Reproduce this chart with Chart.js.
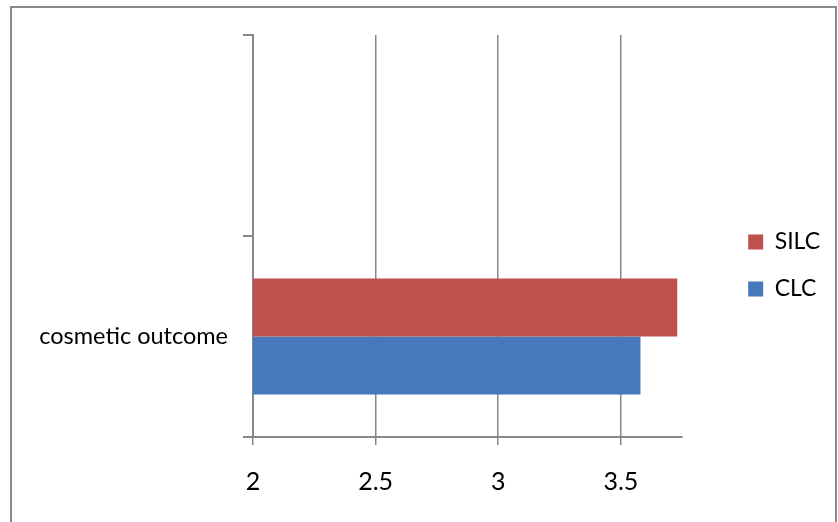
<!DOCTYPE html>
<html>
<head>
<meta charset="utf-8">
<script src="https://cdn.jsdelivr.net/npm/chart.js@4/dist/chart.umd.min.js"></script>
<style>
  body { margin: 0; background: #fff; }
</style>
</head>
<body>
<canvas id="outcome" width="838" height="522"></canvas>
<script>
// category rows (top slot is left blank like the source sheet)
var categories = ['', 'cosmetic outcome'];
var silcValues = [null, 3.73];
var clcValues = [null, 3.58];

// value axis
var xTicks = [2, 2.5, 3, 3.5];
var xMin = 2;
var xMax = 3.75;

var axisGrey = '#878787';

Chart.defaults.font.family = 'Lato, "Open Sans", sans-serif';
Chart.defaults.font.size = 23;
Chart.defaults.color = '#000';

// grey outline round the whole chart
var chartFrame = {
    id: 'chartFrame',
    beforeDraw: function (chart) {
        var ctx = chart.ctx;
        ctx.save();
        ctx.strokeStyle = '#8a8a8a';
        ctx.lineWidth = 2;
        ctx.strokeRect(11, 7, 825, 530);
        ctx.restore();
    }
};

var ctxb = document.getElementById('outcome');
var barChart = new Chart(ctxb, {
    type: 'bar',
    data: {
        labels: categories,
        datasets: [
            {
                label: 'SILC',
                data: silcValues,
                backgroundColor: '#c0504d',
                borderWidth: 0
            },
            {
                label: 'CLC',
                data: clcValues,
                backgroundColor: '#4679bb',
                borderWidth: 0
            }
        ]
    },
    options: {
        indexAxis: 'y',
        responsive: false,
        animation: false,
        devicePixelRatio: 1,
        categoryPercentage: 0.577,
        barPercentage: 1,
        layout: {
            padding: { top: 35, right: 8, bottom: 26, left: 0 }
        },
        plugins: {
            legend: {
                position: 'right',
                labels: {
                    boxWidth: 15,
                    boxHeight: 15,
                    padding: 24,
                    font: { size: 23 }
                }
            },
            tooltip: { enabled: false }
        },
        scales: {
            x: {
                type: 'linear',
                min: xMin,
                max: xMax,
                afterBuildTicks: function (axis) {
                    axis.ticks = xTicks.map(function (v) { return { value: v }; });
                },
                afterFit: function (axis) { axis.height = 59; },
                grid: {
                    color: axisGrey,
                    lineWidth: 1.5,
                    tickLength: 8
                },
                border: { color: axisGrey, width: 2 },
                ticks: {
                    padding: 22,
                    font: { size: 25 },
                    callback: function (v) { return String(v); }
                }
            },
            y: {
                type: 'category',
                afterFit: function (axis) { axis.width = 253; },
                grid: {
                    offset: true,
                    drawOnChartArea: false,
                    color: axisGrey,
                    lineWidth: 2,
                    tickLength: 10
                },
                border: { color: axisGrey, width: 2 },
                ticks: { padding: 15, font: { size: 23.5 } }
            },
            // empty strip between plot and legend
            gap: {
                type: 'category',
                position: 'right',
                grid: { display: false },
                border: { display: false },
                ticks: { display: false },
                afterFit: function (axis) { axis.width = 42; }
            }
        }
    },
    plugins: [chartFrame]
});
</script>
</body>
</html>
